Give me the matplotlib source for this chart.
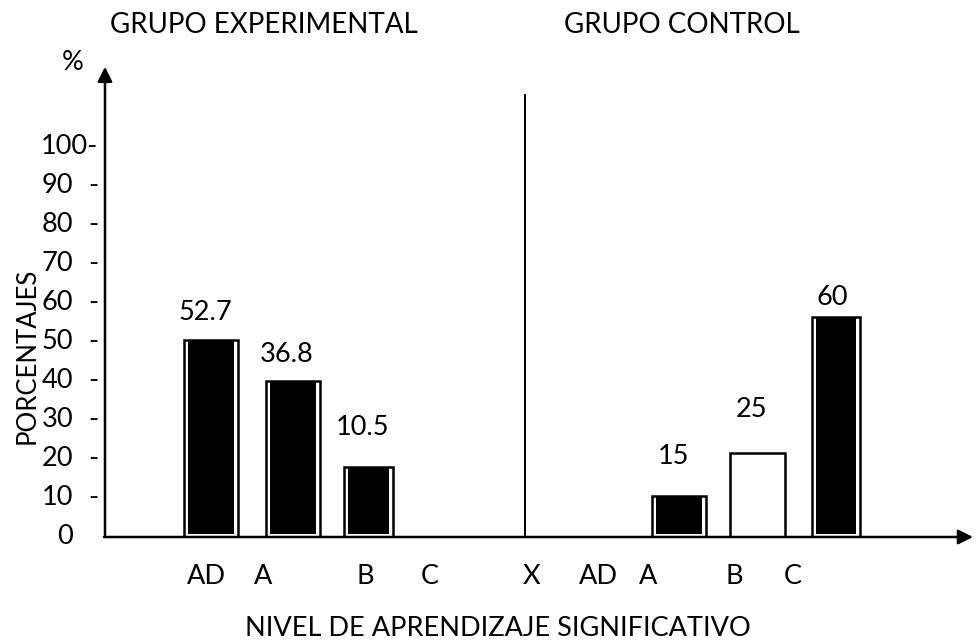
import matplotlib
matplotlib.use("Agg")
import matplotlib.pyplot as plt

plt.rcParams['font.family'] = ['Lato', 'DejaVu Sans']

# drawn bar heights (as read against the y scale) and the printed values
exp_cats = ["AD", "A", "B", "C"]
exp_heights = [50.4, 39.9, 17.9]
exp_values = ["52.7", "36.8", "10.5"]
exp_fill = ["black", "black", "black"]

ctrl_cats = ["X", "AD", "A", "B", "C"]
ctrl_heights = [10.5, 21.5, 56.3]
ctrl_values = ["15", "25", "60"]
ctrl_fill = ["black", "white", "black"]

yticks = [0, 10, 20, 30, 40, 50, 60, 70, 80, 90, 100]

# layout (x in pixel columns of the 978 px wide figure)
exp_bar_x = [211, 293, 368.5]
exp_bar_w = [54, 54, 49]
exp_lab_dy = [7.0, 6.7, 10.2]
exp_cat_x = [206, 263, 365, 430]
ctrl_bar_x = [679, 757.5, 836]
ctrl_bar_w = [54, 55, 48]
ctrl_lab_dy = [10.0, 11.0, 5.1]
ctrl_cat_x = [532, 598, 648, 734, 793]

px = 3.908  # pixels per percent unit
fig = plt.figure(figsize=(9.78, 6.44), dpi=100)
ax = fig.add_axes([0, (644 - 537) / 644, 1, 469 / 644])
ax.set_xlim(0, 978)
ax.set_ylim(0, 120)
ax.axis("off")

fs = 19.5


def draw_bars(xs, ws, hs, fills, vals, dys):
    ax.bar(xs, hs, width=ws, color="white", edgecolor="black", linewidth=1.8, zorder=2)
    for x, w, h, f, v, dy in zip(xs, ws, hs, fills, vals, dys):
        if f != "white":
            ax.bar(x, h - 2.0 / px * 2, width=w - 8, bottom=3.0 / px, color=f,
                   edgecolor="none", zorder=3)
        ax.text(x - 6 if v != "60" else x - 4, h + dy, v, ha="center", va="center", fontsize=fs)


draw_bars(exp_bar_x, exp_bar_w, exp_heights, exp_fill, exp_values, exp_lab_dy)
draw_bars(ctrl_bar_x, ctrl_bar_w, ctrl_heights, ctrl_fill, ctrl_values, ctrl_lab_dy)

# axes with arrows
ax.annotate("", xy=(105, 120.3), xytext=(105, 0),
            arrowprops=dict(arrowstyle="-|>", lw=1.8, color="black", mutation_scale=22,
                            shrinkA=0, shrinkB=0), annotation_clip=False)
ax.annotate("", xy=(973, 0), xytext=(104, 0),
            arrowprops=dict(arrowstyle="-|>", lw=1.8, color="black", mutation_scale=22,
                            shrinkA=0, shrinkB=0), annotation_clip=False)
ax.plot([525, 525], [0, (537 - 95) / px], color="black", lw=1.4)

# y tick labels
for t in yticks:
    if t == 0:
        ax.text(73, t, "0", ha="right", va="center", fontsize=fs)
    elif t == 100:
        ax.text(98, t, "100-", ha="right", va="center", fontsize=fs)
    else:
        ax.text(73, t, str(t), ha="right", va="center", fontsize=fs)
        ax.text(93, t, "-", ha="center", va="center", fontsize=fs)

ax.text(73, 121.5, "%", ha="center", va="center", fontsize=fs, clip_on=False)
ax.text(27, (537 - 356) / px, "PORCENTAJES", rotation=90, ha="center", va="center", fontsize=18.5)

# category labels
for x, c in zip(exp_cat_x + ctrl_cat_x, exp_cats + ctrl_cats):
    ax.text(x, -10.2, c, ha="center", va="center", fontsize=fs, clip_on=False)

ax.text(498, -23.3, "NIVEL DE APRENDIZAJE SIGNIFICATIVO", ha="center", va="center",
        fontsize=fs, clip_on=False)
ax.text(264, 131, "GRUPO EXPERIMENTAL", ha="center", va="center", fontsize=20, clip_on=False)
ax.text(682, 131, "GRUPO CONTROL", ha="center", va="center", fontsize=20, clip_on=False)

fig.savefig("out.png", dpi=100)
